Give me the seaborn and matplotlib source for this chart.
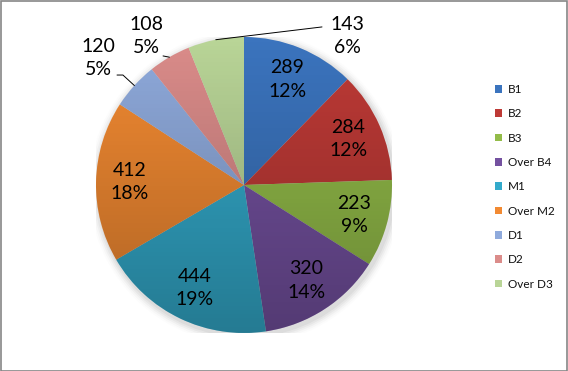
import numpy as np
import matplotlib
matplotlib.use("Agg")
import matplotlib.pyplot as plt
import seaborn as sns
from matplotlib.patches import Circle

categories = ["B1", "B2", "B3", "Over B4", "M1", "Over M2", "D1", "D2", "Over D3"]
values = [289, 284, 223, 320, 444, 412, 120, 108, 143]
pct_labels = ["12%", "12%", "9%", "14%", "19%", "18%", "5%", "5%", "6%"]
colors = ["#3B74BE", "#BE3A36", "#93BC49", "#7451A0", "#33AACB",
          "#F28A32", "#8FAADC", "#DB8C8A", "#B9D597"]

sns.set_theme(style="white")
sns.set_palette(colors)
plt.rcParams["font.family"] = ["Lato", "DejaVu Sans"]

W, H = 568, 371
fig = plt.figure(figsize=(W / 100, H / 100), dpi=100)
fig.patch.set_facecolor("white")

R = 148
cx, cy = 244, 185
ax = fig.add_axes([(cx - R) / W, (H - cy - R) / H, 2 * R / W, 2 * R / H])
ax.set_xlim(-1, 1)
ax.set_ylim(-1, 1)
ax.set_aspect("equal")
ax.axis("off")

# soft shadow
for i, a in enumerate(np.linspace(0.10, 0.02, 5)):
    ax.add_patch(Circle((0.012, -0.018), 1.0 + 0.012 * (i + 1), color="gray",
                        alpha=a, lw=0, zorder=0))

wedges, _ = ax.pie(values, colors=colors, startangle=90, counterclock=False,
                   radius=1.0, wedgeprops=dict(linewidth=0))
for w in wedges:
    w.set_zorder(2)

# vertical shading gradient over the pie
grad = np.zeros((256, 2, 4))
grad[..., 3] = np.linspace(0.0, 0.28, 256)[:, None]
im = ax.imshow(grad, extent=(-1, 1, -1, 1), origin="upper", aspect="auto",
               zorder=3, interpolation="bilinear")
clip = Circle((0, 0), 1.0, transform=ax.transData)
im.set_clip_path(clip)
ax.set_xlim(-1, 1)
ax.set_ylim(-1, 1)

# labels
fs = 14
outside = {6: (1.303, 138.8), 7: (1.205, 123.3), 8: (1.224, 55.3)}
for i, w in enumerate(wedges):
    mid = (w.theta1 + w.theta2) / 2.0
    if i in outside:
        r, ang = outside[i]
    else:
        r, ang = 0.77, mid
    x = r * np.cos(np.radians(ang))
    y = r * np.sin(np.radians(ang))
    ax.text(x, y, f"{values[i]}\n{pct_labels[i]}", ha="center", va="center",
            fontsize=fs, color="black", linespacing=1.45, zorder=5)

# leader lines
def edge(i):
    w = wedges[i]
    m = np.radians((w.theta1 + w.theta2) / 2.0)
    return np.cos(m), np.sin(m)

ex, ey = edge(6)
ax.plot([ex, -0.818, -0.858], [ey, 0.743, 0.743], color="black", lw=0.7,
        zorder=6, clip_on=False)
ex, ey = edge(7)
ax.plot([ex, -0.547], [ey, 0.872], color="black", lw=0.7, zorder=6,
        clip_on=False)
ex, ey = edge(8)
ax.plot([ex, 0.527], [ey, 1.068], color="black", lw=0.7, zorder=6,
        clip_on=False)

# legend
leg = fig.legend(wedges, categories, loc="upper left",
                 bbox_to_anchor=(495 / W, 1 - 84 / H), frameon=False,
                 fontsize=8.5, handlelength=0.6, handleheight=0.6,
                 handletextpad=0.5, labelspacing=1.13, borderpad=0,
                 borderaxespad=0)
for t in leg.get_texts():
    t.set_color("#111111")

# outer frame
fig.add_artist(plt.Rectangle((0.5 / W, 0.5 / H), 1 - 1.5 / W, 1 - 1.5 / H,
                             transform=fig.transFigure, fill=False,
                             edgecolor="#868686", lw=1.2))

fig.savefig("out.png", dpi=100)
